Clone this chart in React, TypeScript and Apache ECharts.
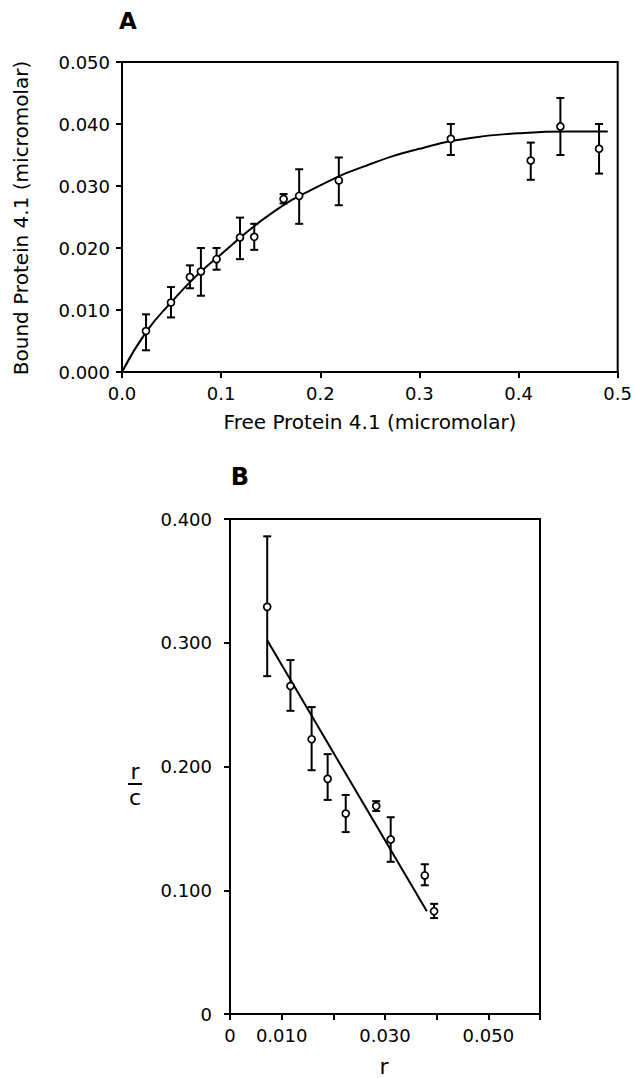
import React, { useEffect, useRef } from "react";
import * as echarts from "echarts";

// ---------- Panel A data ----------
const A_X = [0.0242, 0.0494, 0.0685, 0.0796, 0.0954, 0.119, 0.1334, 0.163, 0.1787, 0.2187, 0.3317, 0.4123, 0.4422, 0.4812];
const A_Y = [0.0066, 0.0112, 0.0153, 0.0162, 0.0182, 0.0217, 0.0218, 0.0279, 0.0284, 0.0309, 0.0376, 0.0341, 0.0396, 0.036];
const A_LOW = [0.0035, 0.0088, 0.0135, 0.0123, 0.0165, 0.0182, 0.0197, 0.0272, 0.0239, 0.0269, 0.035, 0.031, 0.035, 0.032];
const A_HIGH = [0.0093, 0.0137, 0.0172, 0.02, 0.02, 0.0249, 0.0239, 0.0287, 0.0327, 0.0346, 0.04, 0.037, 0.0442, 0.04];
const A_CURVE_X = [0, 0.025, 0.05, 0.075, 0.1, 0.15, 0.2, 0.25, 0.3, 0.35, 0.4, 0.45, 0.49];
const A_CURVE_Y = [0, 0.0066, 0.0113, 0.0155, 0.019, 0.0255, 0.0301, 0.0335, 0.036, 0.0377, 0.0385, 0.0388, 0.0388];
const A_X_TICKS = ["0.0", "0.1", "0.2", "0.3", "0.4", "0.5"];
const A_Y_TICKS = ["0.000", "0.010", "0.020", "0.030", "0.040", "0.050"];

// ---------- Panel B data ----------
const B_X = [0.0072, 0.0117, 0.0158, 0.0189, 0.0224, 0.0283, 0.0311, 0.0377, 0.0395];
const B_Y = [0.329, 0.265, 0.222, 0.19, 0.162, 0.168, 0.141, 0.112, 0.083];
const B_LOW = [0.273, 0.245, 0.197, 0.173, 0.147, 0.164, 0.123, 0.104, 0.0775];
const B_HIGH = [0.386, 0.286, 0.248, 0.21, 0.177, 0.172, 0.159, 0.121, 0.089];
const B_LINE_X = [0.0072, 0.0381];
const B_LINE_Y = [0.302, 0.083];
const B_X_TICKS = ["0", "0.010", "", "0.030", "", "0.050", ""];
const B_Y_TICKS = ["0", "0.100", "0.200", "0.300", "0.400"];

const FONT = "DejaVu Sans";

function errorBarSeries(xs: number[], lo: number[], hi: number[], idx: number) {
  return {
    type: "custom",
    xAxisIndex: idx,
    yAxisIndex: idx,
    data: xs.map((x, i) => [x, lo[i], hi[i]]),
    encode: { x: 0, y: [1, 2] },
    z: 2,
    renderItem: (_p: any, api: any) => {
      const x = api.value(0);
      const p1 = api.coord([x, api.value(1)]);
      const p2 = api.coord([x, api.value(2)]);
      const cap = 4;
      const st = { stroke: "#000", lineWidth: 2 };
      return {
        type: "group",
        children: [
          { type: "line", shape: { x1: p1[0], y1: p1[1], x2: p2[0], y2: p2[1] }, style: st },
          { type: "line", shape: { x1: p1[0] - cap, y1: p1[1], x2: p1[0] + cap, y2: p1[1] }, style: st },
          { type: "line", shape: { x1: p2[0] - cap, y1: p2[1], x2: p2[0] + cap, y2: p2[1] }, style: st },
        ],
      };
    },
  };
}

function makeAxis(grid: number, min: number, max: number, interval: number, labels: string[], fontSize: number, margin: number) {
  return {
    type: "value",
    gridIndex: grid,
    min,
    max,
    interval,
    axisLine: { show: true, onZero: false, lineStyle: { color: "#000", width: 2 } },
    axisTick: { show: true, inside: false, length: 6, lineStyle: { color: "#000", width: 2 } },
    splitLine: { show: false },
    axisLabel: {
      color: "#000",
      fontSize,
      fontFamily: FONT,
      margin,
      showMinLabel: true,
      showMaxLabel: true,
      formatter: (v: number) => {
        const k = Math.round((v - min) / interval);
        return labels[k] ?? "";
      },
    },
  };
}

export default function App() {
  const ref = useRef<HTMLDivElement>(null);
  useEffect(() => {
    document.body.style.margin = "0";
    if (!ref.current) return;
    const chart = echarts.init(ref.current, undefined, { renderer: "svg" });
    const option: any = {
      animation: false,
      backgroundColor: "#fff",
      grid: [
        { left: 122, top: 62, width: 496, height: 310, show: true, borderColor: "#000", borderWidth: 2, backgroundColor: "transparent" },
        { left: 230, top: 519, width: 310, height: 495, show: true, borderColor: "#000", borderWidth: 2, backgroundColor: "transparent" },
      ],
      xAxis: [
        makeAxis(0, 0, 0.5, 0.1, A_X_TICKS, 18, 12),
        makeAxis(1, 0, 0.06, 0.01, B_X_TICKS, 18, 12),
      ],
      yAxis: [
        makeAxis(0, 0, 0.05, 0.01, A_Y_TICKS, 18, 12),
        makeAxis(1, 0, 0.4, 0.1, B_Y_TICKS, 18, 18),
      ],
      series: [
        errorBarSeries(A_X, A_LOW, A_HIGH, 0),
        {
          type: "line",
          xAxisIndex: 0,
          yAxisIndex: 0,
          data: A_CURVE_X.map((x, i) => [x, A_CURVE_Y[i]]),
          smooth: 0.5,
          symbol: "none",
          lineStyle: { color: "#000", width: 2 },
          z: 3,
        },
        {
          type: "scatter",
          xAxisIndex: 0,
          yAxisIndex: 0,
          data: A_X.map((x, i) => [x, A_Y[i]]),
          symbol: "circle",
          symbolSize: 7,
          itemStyle: { color: "#fff", borderColor: "#000", borderWidth: 1.7, opacity: 1 },
          z: 4,
        },
        errorBarSeries(B_X, B_LOW, B_HIGH, 1),
        {
          type: "line",
          xAxisIndex: 1,
          yAxisIndex: 1,
          data: B_LINE_X.map((x, i) => [x, B_LINE_Y[i]]),
          symbol: "none",
          lineStyle: { color: "#000", width: 2 },
          z: 3,
        },
        {
          type: "scatter",
          xAxisIndex: 1,
          yAxisIndex: 1,
          data: B_X.map((x, i) => [x, B_Y[i]]),
          symbol: "circle",
          symbolSize: 7,
          itemStyle: { color: "#fff", borderColor: "#000", borderWidth: 1.7, opacity: 1 },
          z: 4,
        },
      ],
      graphic: [
        { type: "text", x: 128, y: 21, style: { text: "A", font: `bold 23px "${FONT}"`, fill: "#000", align: "center", verticalAlign: "middle" } },
        {
          type: "text",
          x: 21,
          y: 218,
          rotation: Math.PI / 2,
          style: { text: "Bound Protein 4.1 (micromolar)", font: `20px "${FONT}"`, fill: "#000", align: "center", verticalAlign: "middle" },
        },
        { type: "text", x: 370, y: 422, style: { text: "Free Protein 4.1 (micromolar)", font: `20px "${FONT}"`, fill: "#000", align: "center", verticalAlign: "middle" } },
        { type: "text", x: 240, y: 477, style: { text: "B", font: `bold 24px "${FONT}"`, fill: "#000", align: "center", verticalAlign: "middle" } },
        { type: "text", x: 384, y: 1066, style: { text: "r", font: `22px "${FONT}"`, fill: "#000", align: "center", verticalAlign: "middle" } },
        { type: "text", x: 135, y: 771, style: { text: "r", font: `22px "${FONT}"`, fill: "#000", align: "center", verticalAlign: "middle" } },
        { type: "line", shape: { x1: 128, y1: 784, x2: 142, y2: 784 }, style: { stroke: "#000", lineWidth: 2 } },
        { type: "text", x: 135, y: 797, style: { text: "c", font: `22px "${FONT}"`, fill: "#000", align: "center", verticalAlign: "middle" } },
      ],
    };
    chart.setOption(option);
    return () => chart.dispose();
  }, []);
  return <div ref={ref} style={{ width: 635, height: 1078 }} />;
}
